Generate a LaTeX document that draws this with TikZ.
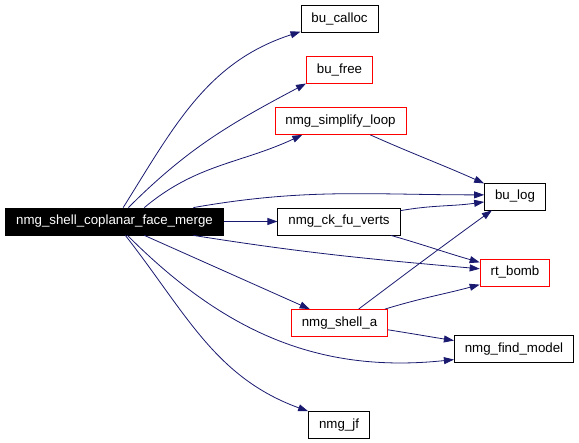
\documentclass[tikz,border=0pt]{standalone}
\usepackage{fontspec}
\setmainfont{Liberation Sans}
\usetikzlibrary{arrows.meta}
\definecolor{callblue}{HTML}{191970}

\begin{document}
\begin{tikzpicture}[x=1pt,y=1pt,->,>={Triangle[length=10pt,width=7pt]},
                    every edge/.style={draw=callblue,line width=0.8pt},
                    func/.style={rectangle,draw=black,line width=0.8pt,minimum height=27pt,
                                 inner xsep=10.5pt,inner ysep=0pt,font=\fontsize{13.3}{16}\selectfont},
                    funcred/.style={func,draw=red},
                    funcroot/.style={func,fill=black,text=white}]
  \useasboundingbox (0,0) rectangle (579,443);

  \node[funcroot] (merge)     at (114.5,221.5) {nmg\_shell\_coplanar\_face\_merge};
  \node[func]     (calloc)    at (339.5,424)   {bu\_calloc};
  \node[funcred]  (free)      at (339.5,373)   {bu\_free};
  \node[funcred]  (simplify)  at (340.5,322)   {nmg\_simplify\_loop};
  \node[func]     (ckfu)      at (339,221.5)   {nmg\_ck\_fu\_verts};
  \node[funcred]  (shella)    at (339.5,120)   {nmg\_shell\_a};
  \node[func]     (jf)        at (339,18)      {nmg\_jf};
  \node[func]     (log)       at (515,246.5)   {bu\_log};
  \node[funcred]  (bomb)      at (515,170.5)   {rt\_bomb};
  \node[func]     (findmodel) at (514,94)      {nmg\_find\_model};

  \path (merge.58)  edge[out=58,in=198]  (calloc.198)
        (merge.45)  edge[out=45,in=208]  (free.202)
        (merge.25)  edge[out=40,in=205]  (simplify.200)
        (merge.10)  edge[out=10,in=180]  (log.177)
        (merge)     edge                 (ckfu)
        (merge.350) edge[out=-9,in=175]  (bomb.174)
        (merge.335) edge[out=-24,in=156] (shella.155)
        (merge.313) edge[out=-45,in=186] (findmodel.190)
        (merge.308) edge[out=-52,in=160] (jf.156);
  \path (simplify.335) edge[out=-24,in=156] (log.157)
        (ckfu.10)      edge[out=10,in=188]  (log.190)
        (ckfu.345)     edge[out=-16,in=164] (bomb.164)
        (shella.36)    edge[out=37,in=216]  (log.211)
        (shella.17)    edge[out=17,in=195]  (bomb.199)
        (shella.352)   edge[out=-9,in=171]  (findmodel.172);
\end{tikzpicture}
\end{document}
